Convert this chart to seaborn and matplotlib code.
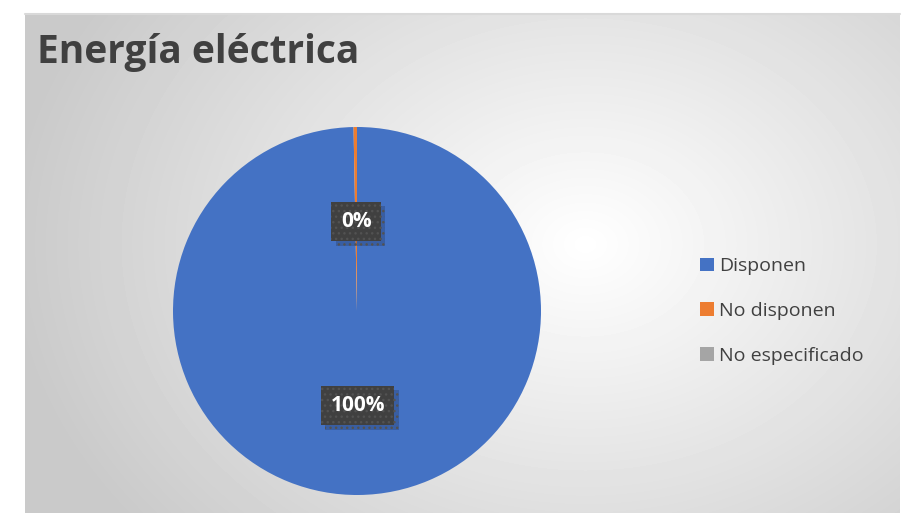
import numpy as np
import matplotlib
matplotlib.use('Agg')
import matplotlib.pyplot as plt
import matplotlib.patheffects as pe
from matplotlib.patches import Patch
import seaborn as sns

# Data
categories = ['Disponen', 'No disponen', 'No especificado']
values = [99.7, 0.3, 0.0]
colors = ['#4472C4', '#ED7D31', '#A5A5A5']
title = 'Energía eléctrica'

sns.set_theme(style='white')
plt.rcParams['font.family'] = ['Open Sans', 'DejaVu Sans']
plt.rcParams['hatch.color'] = '#555555'
plt.rcParams['hatch.linewidth'] = 1.0

W, H = 908, 513
fig = plt.figure(figsize=(W / 100, H / 100), dpi=100)
fig.patch.set_facecolor('white')

# chart area with radial grey gradient
bg = fig.add_axes([25 / W, 0, 875 / W, 499 / H])
yy, xx = np.mgrid[0:499, 0:875]
dist = np.sqrt(((xx - 560) / 580) ** 2 + ((yy - 230) / 450) ** 2)
shade = 1.0 - 0.21 * np.clip(dist, 0, 1)
bg.imshow(shade, cmap='gray', vmin=0, vmax=1, aspect='auto', interpolation='bilinear')
bg.set_axis_off()
fig.add_artist(plt.Line2D([25 / W, 900 / W], [499 / H, 499 / H], color='#d9d9d9', lw=1.5))

fig.text(37 / W, 1 - 53 / H, title, fontsize=28, fontweight='bold', color='#404040',
         va='center', ha='left')

# pie
ax = fig.add_axes([173 / W, 18 / H, 368 / W, 368 / H])
wedges, _ = ax.pie(values, colors=colors, startangle=90, counterclock=False,
                   wedgeprops=dict(linewidth=0))
ax.set_xlim(-1, 1)
ax.set_ylim(-1, 1)
ax.set_aspect('equal')

total = sum(values)
for w, v in zip(wedges, values):
    if v == 0:
        continue
    ang = np.deg2rad((w.theta1 + w.theta2) / 2)
    x, y = 0.5 * np.cos(ang), 0.5 * np.sin(ang)
    lab = f'{round(v / total * 100):.0f}%'
    t = ax.text(x, y, lab, ha='center', va='center_baseline', fontsize=15, fontweight='bold',
                color='white',
                bbox=dict(boxstyle='square,pad=0.45', fc='#404040', ec='#525252', lw=0,
                          hatch='...'))
    t.get_bbox_patch().set_path_effects([
        pe.SimplePatchShadow(offset=(3, -3), shadow_rgbFace='#1a2440', alpha=0.25),
        pe.Normal()])

handles = [Patch(facecolor=c, edgecolor='none') for c in colors]
fig.legend(handles, categories, loc='center left', bbox_to_anchor=(700 / W, 1 - 311 / H),
           frameon=False, fontsize=14, handlelength=0.7, handleheight=0.7,
           handletextpad=0.3, labelspacing=1.38, labelcolor='#404040',
           borderaxespad=0, borderpad=0)

fig.savefig('out.png', dpi=100)
